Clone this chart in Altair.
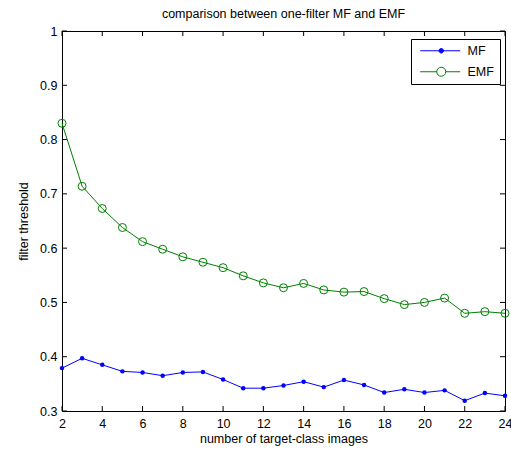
import altair as alt
import pandas as pd

# ---- data ----
n_images = list(range(2, 25))
mf_vals = [0.379, 0.397, 0.385, 0.373, 0.371, 0.365, 0.371, 0.372, 0.358, 0.342,
           0.342, 0.347, 0.354, 0.344, 0.357, 0.348, 0.334, 0.340, 0.334, 0.338,
           0.319, 0.333, 0.328]
emf_vals = [0.830, 0.714, 0.673, 0.638, 0.612, 0.598, 0.584, 0.574, 0.564, 0.549,
            0.536, 0.527, 0.535, 0.523, 0.519, 0.520, 0.507, 0.496, 0.500, 0.508,
            0.480, 0.483, 0.480]
series_names = ["MF", "EMF"]
x_ticks = list(range(2, 25, 2))
y_ticks = [0.3, 0.4, 0.5, 0.6, 0.7, 0.8, 0.9, 1.0]

df = pd.DataFrame({
    "x": n_images * 2,
    "y": mf_vals + emf_vals,
    "series": ["MF"] * len(mf_vals) + ["EMF"] * len(emf_vals),
})
xt = pd.DataFrame({"x": x_ticks})
yt = pd.DataFrame({"y": y_ticks})

W, H = 443, 380
FONT = "Liberation Sans"
FS = 12.5
BLUE = "#0000ff"
GREEN = "#008000"

x_axis = alt.Axis(values=x_ticks, title="number of target-class images", ticks=False,
                  grid=False, domain=False, labelPadding=6, titlePadding=3,
                  labelFlush=False)
y_axis = alt.Axis(values=y_ticks, title="filter threshold", ticks=False, grid=False,
                  domain=False, labelPadding=5, titlePadding=9, format="~g")
xs = alt.Scale(domain=[2, 24], nice=False, zero=False)
ys = alt.Scale(domain=[0.3, 1.0], nice=False, zero=False)

X = alt.X("x:Q", scale=xs, axis=x_axis)
Y = alt.Y("y:Q", scale=ys, axis=y_axis)

base = alt.Chart(df)

mf_line = base.transform_filter("datum.series == 'MF'").mark_line(
    color=BLUE, strokeWidth=1).encode(x=X, y=Y)
mf_pts = base.transform_filter("datum.series == 'MF'").mark_point(
    filled=True, color=BLUE, size=20, opacity=1).encode(x=X, y=Y)
emf_line = base.transform_filter("datum.series == 'EMF'").mark_line(
    color=GREEN, strokeWidth=1).encode(x=X, y=Y)
emf_pts = base.transform_filter("datum.series == 'EMF'").mark_point(
    filled=False, color=GREEN, size=64, strokeWidth=1, opacity=1).encode(x=X, y=Y)

# legend-only layer (no rows drawn)
p_mf = "M-0.5,0L7.5,0M4.15,0A0.45,0.45,0,1,1,3.25,0A0.45,0.45,0,1,1,4.15,0"
p_emf = "M-0.5,0L2.8,0M4.6,0L7.5,0M4.6,0A0.9,0.9,0,1,1,2.8,0A0.9,0.9,0,1,1,4.6,0"
leg = alt.Legend(title=None, orient="none", legendX=349, legendY=8, padding=5.5,
                 strokeColor="black", fillColor="white", symbolSize=100,
                 symbolStrokeWidth=1, labelOffset=38.5, labelFont=FONT,
                 labelFontSize=FS, labelColor="black", rowPadding=7)
legend_layer = base.transform_filter("false").mark_point(
    filled=True, opacity=1, strokeWidth=1).encode(
    x=X, y=Y,
    shape=alt.Shape("series:N", scale=alt.Scale(domain=series_names, range=[p_mf, p_emf]), legend=leg),
    stroke=alt.Stroke("series:N", scale=alt.Scale(domain=series_names, range=[BLUE, GREEN]), legend=leg),
    fill=alt.Fill("series:N", scale=alt.Scale(domain=series_names, range=[BLUE, "#ffffff"]), legend=leg),
)

# inward ticks on all four sides
tk = dict(color="black", strokeWidth=1)
xt_bot = alt.Chart(xt).mark_rule(**tk).encode(x=X, y=alt.value(H), y2=alt.value(H - 5))
xt_top = alt.Chart(xt).mark_rule(**tk).encode(x=X, y=alt.value(0), y2=alt.value(5))
yt_left = alt.Chart(yt).mark_rule(**tk).encode(y=Y, x=alt.value(0), x2=alt.value(5))
yt_right = alt.Chart(yt).mark_rule(**tk).encode(y=Y, x=alt.value(W), x2=alt.value(W - 5))

chart = alt.layer(
    xt_bot, xt_top, yt_left, yt_right,
    mf_line, mf_pts, emf_line, emf_pts, legend_layer
).properties(
    width=W, height=H,
    title=alt.Title("comparison between one-filter MF and EMF", font=FONT,
                    fontSize=FS, fontWeight="normal", color="black", offset=5),
    autosize=alt.AutoSizeParams(type="none"),
    padding={"left": 62, "top": 31, "right": 6, "bottom": 41},
    background="white",
).configure_view(
    stroke="black", strokeWidth=1
).configure_axis(
    labelFont=FONT, labelFontSize=FS, labelColor="black",
    titleFont=FONT, titleFontSize=FS, titleColor="black", titleFontWeight="normal",
)

chart.save("out.html", embed_options={"renderer": "svg", "actions": False})
